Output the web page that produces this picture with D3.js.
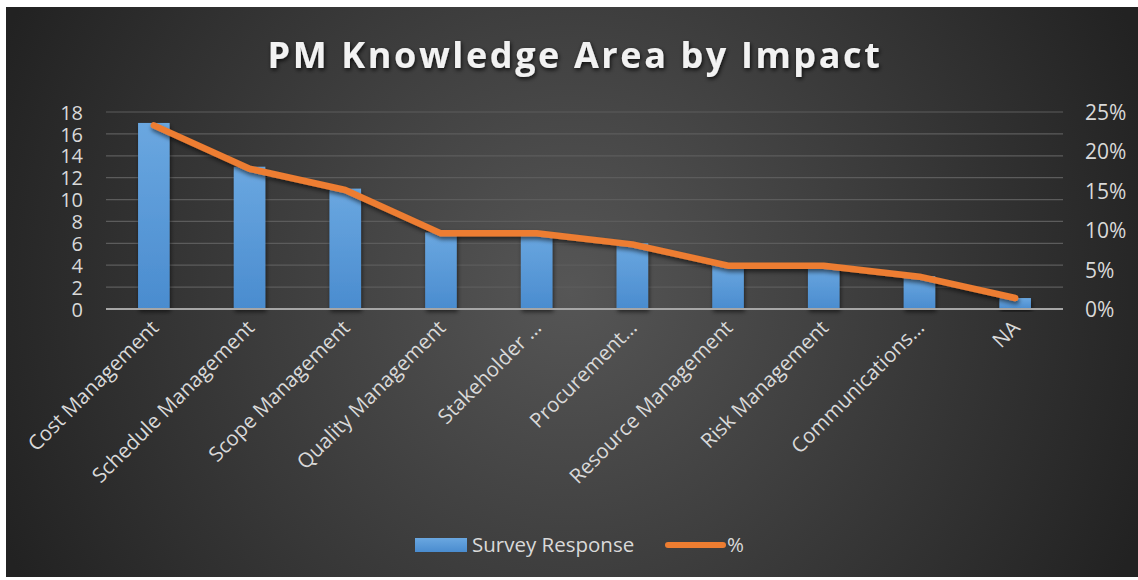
<!DOCTYPE html>
<html>
<head>
<meta charset="utf-8">
<script src="https://cdn.jsdelivr.net/npm/d3@7"></script>
<style>
html,body{margin:0;padding:0;background:#fff;}
svg{display:block;}
</style>
</head>
<body>
<svg id="chart" width="1138" height="580"></svg>
<script>
const categories = ["Cost Management","Schedule Management","Scope Management","Quality Management","Stakeholder …","Procurement…","Resource Management","Risk Management","Communications…","NA"];
const responses = [17,13,11,7,7,6,4,4,3,1];
const percents = [0.233,0.178,0.151,0.096,0.096,0.082,0.055,0.055,0.041,0.014];
const leftTicks = [0,2,4,6,8,10,12,14,16,18];
const rightTicks = [0,0.05,0.10,0.15,0.20,0.25];
const title = "PM Knowledge Area by Impact";
const seriesNames = ["Survey Response","%"];

const W = 1138, H = 580;
const FONT = "'Open Sans', sans-serif";
const svg = d3.select("#chart");
const defs = svg.append("defs");

const bg = defs.append("radialGradient").attr("id","bg")
  .attr("gradientUnits","userSpaceOnUse").attr("cx",570).attr("cy",290).attr("r",620);
bg.append("stop").attr("offset","0").attr("stop-color","#565656");
bg.append("stop").attr("offset","1").attr("stop-color","#222222");

const barG = defs.append("linearGradient").attr("id","barg").attr("x1",0).attr("y1",0).attr("x2",0).attr("y2",1);
barG.append("stop").attr("offset","0").attr("stop-color","#6aa7e0");
barG.append("stop").attr("offset","1").attr("stop-color","#4a8ccf");

const sh = defs.append("filter").attr("id","shadow").attr("x","-20%").attr("y","-20%").attr("width","140%").attr("height","140%");
sh.append("feDropShadow").attr("dx",1).attr("dy",3).attr("stdDeviation",2).attr("flood-color","#000").attr("flood-opacity",0.55);

const tsh = defs.append("filter").attr("id","tshadow").attr("x","-10%").attr("y","-30%").attr("width","120%").attr("height","160%");
tsh.append("feDropShadow").attr("dx",1).attr("dy",2).attr("stdDeviation",2).attr("flood-color","#000").attr("flood-opacity",0.8);

svg.append("rect").attr("x",6).attr("y",7).attr("width",W-6).attr("height",H-10).attr("fill","url(#bg)");

const pLeft = 106, pRight = 1063, pTop = 112, pBottom = 309;

const x = d3.scaleBand().domain(categories).range([pLeft,pRight]).paddingInner(0.67).paddingOuter(0.335);
const y = d3.scaleLinear().domain([0,18]).range([pBottom,pTop]);
const y2 = d3.scaleLinear().domain([0,0.25]).range([pBottom,pTop]);

// gridlines
svg.append("g").selectAll("line").data(leftTicks.filter(d=>d>0)).join("line")
  .attr("x1",pLeft).attr("x2",pRight).attr("y1",d=>y(d)).attr("y2",d=>y(d))
  .attr("stroke","#5c5c5c").attr("stroke-width",1.2);

// left axis
const la = svg.append("g").attr("transform",`translate(${pLeft},0)`)
  .call(d3.axisLeft(y).tickValues(leftTicks).tickSize(0).tickPadding(23));
la.select(".domain").remove();
la.selectAll("text").attr("fill","#d9d9d9").attr("font-family",FONT).attr("font-size",20).attr("text-anchor","end").attr("dy","0.36em");

// right axis
const ra = svg.append("g").attr("transform",`translate(${pRight},0)`)
  .call(d3.axisRight(y2).tickValues(rightTicks).tickSize(0).tickPadding(22).tickFormat(d3.format(".0%")));
ra.select(".domain").remove();
ra.selectAll("text").attr("fill","#d9d9d9").attr("font-family",FONT).attr("font-size",21).attr("dy","0.36em");

// bars
svg.append("g").selectAll("rect").data(categories).join("rect")
  .attr("x",d=>x(d)).attr("width",x.bandwidth())
  .attr("y",(d,i)=>y(responses[i])).attr("height",(d,i)=>pBottom-y(responses[i]))
  .attr("fill","url(#barg)").attr("filter","url(#shadow)");

// baseline
svg.append("line").attr("x1",pLeft).attr("x2",pRight).attr("y1",pBottom).attr("y2",pBottom)
  .attr("stroke","#a6a6a6").attr("stroke-width",2);

// line
const line = d3.line().x((d,i)=>x(categories[i])+x.bandwidth()/2).y(d=>y2(d));
svg.append("path").datum(percents).attr("d",line)
  .attr("fill","none").attr("stroke","#ed7d31").attr("stroke-width",6.5)
  .attr("stroke-linecap","round").attr("stroke-linejoin","round").attr("filter","url(#shadow)");

// x labels
const xa = svg.append("g").attr("transform",`translate(0,${pBottom})`)
  .call(d3.axisBottom(x).tickSize(0).tickPadding(0));
xa.select(".domain").remove();
xa.selectAll("text")
  .attr("fill","#d9d9d9").attr("font-family",FONT).attr("font-size",20.5)
  .attr("text-anchor","end").attr("dy",0)
  .attr("transform","translate(6,20) rotate(-45)");

// title
svg.append("text").attr("x",575).attr("y",68).attr("text-anchor","middle")
  .attr("fill","#f2f2f2").attr("font-family",FONT).attr("font-weight","bold")
  .attr("font-size",36).attr("letter-spacing",2.6).attr("filter","url(#tshadow)").text(title);

// legend
const lg = svg.append("g");
lg.append("rect").attr("x",415).attr("y",538).attr("width",52).attr("height",14).attr("fill","url(#barg)");
lg.append("text").attr("x",472).attr("y",552).attr("fill","#d9d9d9").attr("font-family",FONT).attr("font-size",20.5).text(seriesNames[0]);
lg.append("line").attr("x1",668).attr("x2",723).attr("y1",545).attr("y2",545).attr("stroke","#ed7d31").attr("stroke-width",6).attr("stroke-linecap","round");
lg.append("text").attr("x",727).attr("y",552).attr("fill","#d9d9d9").attr("font-family",FONT).attr("font-size",20.5).text(seriesNames[1]);
</script>
</body>
</html>
